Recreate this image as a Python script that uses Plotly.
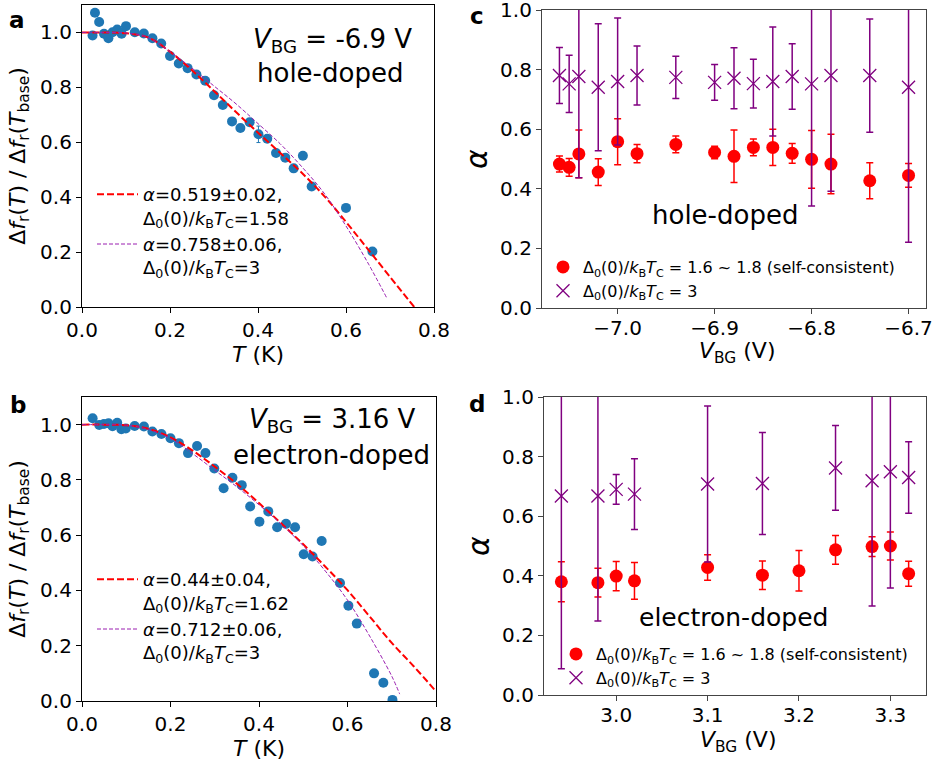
import plotly.graph_objects as go

W, H = 936, 765

# ---------------- Panel a data (hole-doped, V_BG = -6.9 V) ----------------
T_a = [0.024, 0.0295, 0.039, 0.050, 0.060, 0.0695, 0.080, 0.090, 0.100, 0.120,
       0.1405, 0.160, 0.180, 0.200, 0.220, 0.240, 0.260, 0.280, 0.300, 0.320,
       0.341, 0.360, 0.381, 0.401, 0.421, 0.441, 0.462, 0.481, 0.502, 0.522,
       0.600, 0.660]
F_a = [0.989, 1.072, 1.038, 0.995, 0.979, 1.001, 1.011, 0.995, 1.023, 1.001,
       0.996, 0.979, 0.960, 0.914, 0.887, 0.870, 0.847, 0.824, 0.771, 0.736,
       0.676, 0.652, 0.673, 0.629, 0.613, 0.561, 0.544, 0.505, 0.551, 0.439,
       0.361, 0.202]
E_a = [0.005] * 23 + [0.03] + [0.005] * 8

fitT_a_red = [0.0, 0.05, 0.10, 0.15, 0.20, 0.25, 0.30, 0.35, 0.40, 0.45, 0.50,
              0.55, 0.60, 0.65, 0.70, 0.755]
fitF_a_red = [1.0, 1.0, 0.997, 0.982, 0.93, 0.862, 0.787, 0.71, 0.635, 0.562,
              0.488, 0.405, 0.31, 0.21, 0.11, 0.0]
fitT_a_pur = [0.0, 0.05, 0.10, 0.15, 0.20, 0.25, 0.30, 0.35, 0.40, 0.45, 0.50,
              0.55, 0.60, 0.65, 0.692]
fitF_a_pur = [1.0, 1.0, 0.998, 0.982, 0.93, 0.87, 0.805, 0.74, 0.668, 0.595,
              0.51, 0.415, 0.295, 0.16, 0.035]

# ---------------- Panel b data (electron-doped, V_BG = 3.16 V) ----------------
T_b = [0.024, 0.039, 0.0496, 0.060, 0.069, 0.0796, 0.089, 0.099, 0.119, 0.140,
       0.159, 0.1795, 0.200, 0.219, 0.2396, 0.260, 0.279, 0.299, 0.320, 0.340,
       0.361, 0.380, 0.401, 0.421, 0.441, 0.461, 0.4815, 0.501, 0.521, 0.5416,
       0.583, 0.602, 0.621, 0.660, 0.681, 0.7016]
F_b = [1.023, 0.999, 1.002, 1.005, 0.994, 1.007, 0.983, 0.986, 0.995, 0.993,
       0.975, 0.966, 0.951, 0.933, 0.897, 0.923, 0.897, 0.841, 0.770, 0.808,
       0.781, 0.704, 0.649, 0.686, 0.629, 0.641, 0.629, 0.531, 0.523, 0.579,
       0.427, 0.345, 0.280, 0.100, 0.066, 0.004]

fitT_b_red = [0.0, 0.05, 0.10, 0.15, 0.20, 0.25, 0.30, 0.35, 0.40, 0.45, 0.50,
              0.55, 0.60, 0.65, 0.70, 0.75, 0.80]
fitF_b_red = [1.0, 1.0, 0.998, 0.985, 0.954, 0.906, 0.848, 0.786, 0.716, 0.643,
              0.567, 0.486, 0.401, 0.306, 0.21, 0.125, 0.035]
fitT_b_pur = [0.0, 0.05, 0.10, 0.15, 0.20, 0.25, 0.30, 0.35, 0.40, 0.45, 0.50,
              0.55, 0.60, 0.65, 0.70, 0.718]
fitF_b_pur = [1.0, 1.0, 0.998, 0.983, 0.95, 0.895, 0.835, 0.775, 0.71, 0.64,
              0.562, 0.47, 0.365, 0.235, 0.09, 0.025]

# ---------------- Panel c data (hole-doped alpha vs V_BG) ----------------
V_c = [-7.06, -7.05, -7.04, -7.02, -7.00, -6.98, -6.94, -6.90, -6.88, -6.86,
       -6.84, -6.82, -6.80, -6.78, -6.74, -6.70]
alpha_c_sc = [0.483, 0.472, 0.517, 0.456, 0.558, 0.518, 0.549, 0.522, 0.509, 0.539,
              0.539, 0.519, 0.499, 0.483, 0.427, 0.445]
err_c_sc = [0.027, 0.030, 0.080, 0.045, 0.077, 0.031, 0.028, 0.021, 0.088, 0.028,
            0.061, 0.033, 0.097, 0.100, 0.060, 0.040]
alpha_c_3 = [0.780, 0.752, 0.777, 0.741, 0.760, 0.780, 0.774, 0.757, 0.771, 0.753,
             0.760, 0.777, 0.752, 0.780, 0.780, 0.741]
err_c_3 = [0.094, 0.096, 0.340, 0.213, 0.213, 0.099, 0.071, 0.060, 0.102, 0.082,
           0.183, 0.110, 0.410, 0.388, 0.190, 0.520]

# ---------------- Panel d data (electron-doped alpha vs V_BG) ----------------
V_d_sc = [2.94, 2.98, 3.00, 3.02, 3.10, 3.16, 3.20, 3.24, 3.28, 3.30, 3.32]
alpha_d_sc = [0.380, 0.377, 0.399, 0.383, 0.428, 0.402, 0.417, 0.487, 0.498, 0.500, 0.407]
err_d_sc = [0.067, 0.048, 0.049, 0.062, 0.043, 0.048, 0.068, 0.048, 0.033, 0.047, 0.042]
V_d_3 = [2.94, 2.98, 3.00, 3.02, 3.10, 3.16, 3.24, 3.28, 3.30, 3.32]
alpha_d_3 = [0.668, 0.668, 0.690, 0.674, 0.708, 0.710, 0.762, 0.719, 0.749, 0.730]
err_d_3 = [0.580, 0.420, 0.050, 0.119, 0.262, 0.171, 0.142, 0.420, 0.390, 0.120]

# ---------------- ticks ----------------
ticks_T = [0.0, 0.2, 0.4, 0.6, 0.8]
ticks_F = [0.0, 0.2, 0.4, 0.6, 0.8, 1.0]
ticks_alpha = [0.0, 0.2, 0.4, 0.6, 0.8, 1.0]
ticks_Vc = [-7.0, -6.9, -6.8, -6.7]
ticks_Vd = [3.0, 3.1, 3.2, 3.3]

# ---------------- text ----------------
DK = "Δ<sub>0</sub>(0)/<i>k</i><sub>B</sub><i>T</i><sub>C</sub>"
lab_a_red = "<i>α</i>=0.519±0.02,<br>" + DK + "=1.58"
lab_a_pur = "<i>α</i>=0.758±0.06,<br>" + DK + "=3"
lab_b_red = "<i>α</i>=0.44±0.04,<br>" + DK + "=1.62"
lab_b_pur = "<i>α</i>=0.712±0.06,<br>" + DK + "=3"
lab_sc = DK + " = 1.6 ~ 1.8 (self-consistent)"
lab_3 = DK + " = 3"

FONT = "DejaVu Sans"
BLUE = "#1f77b4"
RED = "#ff0000"
PURPLE = "#800080"
PURPLE_FIT = "#9a1fb0"


def dom_x(x0, x1):
    return [x0 / W, x1 / W]


def dom_y(y0, y1):
    return [1 - y1 / H, 1 - y0 / H]


def pad_range(vals):
    lo, hi = min(vals), max(vals)
    s = hi - lo
    return [lo - 0.05 * s, hi + 0.05 * s]


fig = go.Figure()

# Panel a
fig.add_trace(go.Scatter(x=T_a, y=F_a, mode="markers", xaxis="x", yaxis="y",
                         marker=dict(color=BLUE, size=10),
                         error_y=dict(type="data", array=E_a, color=BLUE, thickness=1, width=2),
                         showlegend=False))
fig.add_trace(go.Scatter(x=fitT_a_red, y=fitF_a_red, mode="lines", xaxis="x", yaxis="y",
                         line=dict(color=RED, width=2, dash="7px,3px", shape="spline"),
                         name=lab_a_red, legend="legend"))
fig.add_trace(go.Scatter(x=fitT_a_pur, y=fitF_a_pur, mode="lines", xaxis="x", yaxis="y",
                         line=dict(color=PURPLE_FIT, width=1, dash="4px,2px", shape="spline"),
                         name=lab_a_pur, legend="legend"))

# Panel b
fig.add_trace(go.Scatter(x=T_b, y=F_b, mode="markers", xaxis="x2", yaxis="y2",
                         marker=dict(color=BLUE, size=10), showlegend=False))
fig.add_trace(go.Scatter(x=fitT_b_red, y=fitF_b_red, mode="lines", xaxis="x2", yaxis="y2",
                         line=dict(color=RED, width=2, dash="7px,3px", shape="spline"),
                         name=lab_b_red, legend="legend2"))
fig.add_trace(go.Scatter(x=fitT_b_pur, y=fitF_b_pur, mode="lines", xaxis="x2", yaxis="y2",
                         line=dict(color=PURPLE_FIT, width=1, dash="4px,2px", shape="spline"),
                         name=lab_b_pur, legend="legend2"))

# Panel c
fig.add_trace(go.Scatter(x=V_c, y=alpha_c_sc, mode="markers", xaxis="x3", yaxis="y3",
                         marker=dict(color=RED, size=13),
                         error_y=dict(type="data", array=err_c_sc, color=RED, thickness=1.5, width=3.5),
                         name=lab_sc, legend="legend3"))
fig.add_trace(go.Scatter(x=V_c, y=alpha_c_3, mode="markers", xaxis="x3", yaxis="y3",
                         marker=dict(color=PURPLE, size=13, symbol="x-thin",
                                     line=dict(color=PURPLE, width=1.3)),
                         error_y=dict(type="data", array=err_c_3, color=PURPLE, thickness=1.5, width=3.5),
                         name=lab_3, legend="legend3"))

# Panel d
fig.add_trace(go.Scatter(x=V_d_sc, y=alpha_d_sc, mode="markers", xaxis="x4", yaxis="y4",
                         marker=dict(color=RED, size=13),
                         error_y=dict(type="data", array=err_d_sc, color=RED, thickness=1.5, width=3.5),
                         name=lab_sc, legend="legend4"))
fig.add_trace(go.Scatter(x=V_d_3, y=alpha_d_3, mode="markers", xaxis="x4", yaxis="y4",
                         marker=dict(color=PURPLE, size=13, symbol="x-thin",
                                     line=dict(color=PURPLE, width=1.3)),
                         error_y=dict(type="data", array=err_d_3, color=PURPLE, thickness=1.5, width=3.5),
                         name=lab_3, legend="legend4"))

TICKF = dict(family=FONT, size=20, color="black")
TITF = dict(family=FONT, size=22, color="black")


def axis(domain, rng, tickvals, title, anchor, lc="black", standoff=6, tsize=22, tls=0):
    return dict(domain=domain, range=rng, tickmode="array", tickvals=tickvals,
                ticktext=["%.1f" % v if v >= 0 else "\u2212%.1f" % abs(v) for v in tickvals],
                showline=True, mirror=True, linecolor=lc, linewidth=1.2,
                ticks="outside", ticklen=5, tickwidth=1.2, tickcolor=lc,
                ticklabelstandoff=tls, ticklabeloverflow="allow",
                showgrid=False, zeroline=False, tickfont=TICKF,
                title=dict(text=title, font=dict(family=FONT, size=tsize, color="black"),
                           standoff=standoff),
                anchor=anchor, automargin=False)


xa_dom = dom_x(82, 434)
ya_dom = dom_y(5, 307)
xb_dom = dom_x(82, 436)
yb_dom = dom_y(397, 701)
xc_dom = dom_x(542, 926)
yc_dom = dom_y(10, 308)
xd_dom = dom_x(544, 926)
yd_dom = dom_y(397, 695)

YT = "Δ<i>f</i><sub>r</sub>(<i>T</i>) / Δ<i>f</i><sub>r</sub>(<i>T</i><sub>base</sub>)"
XT = "<i>T</i> (K)"
VT = "<i>V</i><sub>BG</sub> (V)"
AT = "<i>α</i>"

layout = dict(
    width=W, height=H, template="none",
    margin=dict(l=0, r=0, t=0, b=0),
    paper_bgcolor="white", plot_bgcolor="white",
    font=dict(family=FONT, color="black"),
    xaxis=axis(xa_dom, [0, 0.8], ticks_T, XT, "y", standoff=3),
    yaxis=axis(ya_dom, [0, 1.1], ticks_F, YT, "x", standoff=8),
    xaxis2=axis(xb_dom, [0, 0.8], ticks_T, XT, "y2", standoff=3),
    yaxis2=axis(yb_dom, [0, 1.1], ticks_F, YT, "x2", standoff=8),
    xaxis3=axis(xc_dom, pad_range(V_c), ticks_Vc, "", "y3", lc="#444444", tls=-3),
    yaxis3=axis(yc_dom, [0, 1.0], ticks_alpha, AT, "x3", lc="#444444", standoff=3, tsize=30),
    xaxis4=axis(xd_dom, pad_range(V_d_sc), ticks_Vd, "", "y4", lc="#444444", tls=-3),
    yaxis4=axis(yd_dom, [0, 1.0], ticks_alpha, AT, "x4", lc="#444444", standoff=3, tsize=30),
    legend=dict(x=92 / W, y=1 - 176 / H, xanchor="left", yanchor="top", itemwidth=41,
                bgcolor="rgba(0,0,0,0)", font=dict(family=FONT, size=18, color="black"),
                valign="top", tracegroupgap=8),
    legend2=dict(x=92 / W, y=1 - 561 / H, xanchor="left", yanchor="top", itemwidth=41,
                 bgcolor="rgba(0,0,0,0)", font=dict(family=FONT, size=18, color="black"),
                 valign="top", tracegroupgap=10),
    legend3=dict(x=543 / W, y=1 - 250 / H, xanchor="left", yanchor="top",
                 bgcolor="rgba(0,0,0,0)", font=dict(family=FONT, size=16, color="black")),
    legend4=dict(x=556 / W, y=1 - 637 / H, xanchor="left", yanchor="top",
                 bgcolor="rgba(0,0,0,0)", font=dict(family=FONT, size=16, color="black")),
)

BIG = dict(family=FONT, size=26, color="black")
LET = dict(family=FONT, size=23, color="black")
ann = [
    dict(text="<b>a</b>", x=17 / W, y=1 - 20 / H, font=LET),
    dict(text="<b>b</b>", x=18 / W, y=1 - 405 / H, font=LET),
    dict(text="<b>c</b>", x=477 / W, y=1 - 16 / H, font=LET),
    dict(text="<b>d</b>", x=477 / W, y=1 - 404 / H, font=LET),
    dict(text="<i>V</i><sub>BG</sub> = -6.9 V", x=332 / W, y=1 - 40 / H, font=BIG),
    dict(text="hole-doped", x=330 / W, y=1 - 73 / H, font=BIG),
    dict(text="<i>V</i><sub>BG</sub> = 3.16 V", x=332 / W, y=1 - 420 / H, font=BIG),
    dict(text="electron-doped", x=331 / W, y=1 - 455 / H, font=BIG),
    dict(text="hole-doped", x=725 / W, y=1 - 215 / H, font=BIG),
    dict(text="electron-doped", x=733 / W, y=1 - 617 / H, font=dict(family=FONT, size=25, color="black")),
]
for a in ann:
    a.update(xref="paper", yref="paper", showarrow=False, xanchor="center", yanchor="middle")
ann.append(dict(text=VT, x=737 / W, y=1 - 336 / H, font=TITF, xref="paper", yref="paper",
                showarrow=False, xanchor="center", yanchor="top"))
ann.append(dict(text=VT, x=738 / W, y=1 - 725 / H, font=TITF, xref="paper", yref="paper",
                showarrow=False, xanchor="center", yanchor="top"))
layout["annotations"] = ann

fig.update_layout(**layout)
fig.write_html("out.html")
